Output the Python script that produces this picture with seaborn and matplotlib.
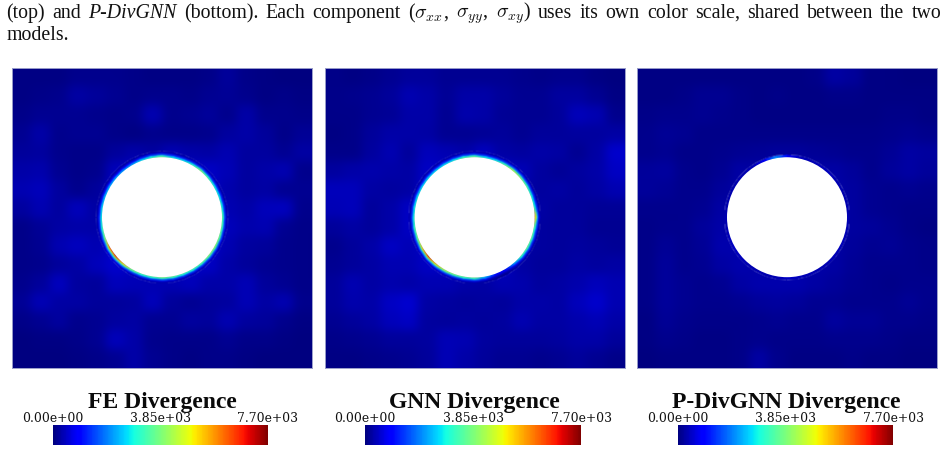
import numpy as np
import matplotlib
matplotlib.use("Agg")
import matplotlib.pyplot as plt
from matplotlib.patches import Circle
import seaborn as sns

# Divergence magnitude sampled on a coarse 16 x 16 grid (top row first)
fe_field = [
    [40, 40, 50, 95, 110, 95, 70, 50, 50, 60, 70, 185, 80, 50, 30, 30],
    [50, 70, 110, 245, 185, 125, 80, 95, 95, 80, 125, 165, 95, 60, 80, 50],
    [70, 150, 125, 150, 95, 70, 95, 340, 110, 125, 185, 95, 280, 95, 95, 80],
    [150, 280, 110, 140, 140, 70, 60, 110, 80, 80, 110, 215, 300, 185, 80, 165],
    [185, 230, 95, 70, 80, 185, 280, 230, 340, 300, 245, 360, 215, 230, 150, 260],
    [300, 320, 125, 70, 95, 400, 460, 460, 460, 460, 460, 380, 230, 280, 360, 95],
    [360, 420, 230, 110, 200, 500, 460, 460, 460, 460, 500, 320, 230, 260, 125, 150],
    [230, 340, 230, 420, 260, 500, 460, 460, 460, 460, 500, 340, 280, 400, 440, 110],
    [70, 165, 245, 300, 280, 520, 460, 460, 460, 460, 520, 400, 320, 360, 140, 70],
    [70, 125, 340, 440, 340, 540, 460, 460, 460, 460, 520, 340, 230, 185, 110, 70],
    [70, 110, 185, 245, 420, 520, 460, 460, 460, 460, 480, 280, 200, 140, 110, 70],
    [110, 200, 440, 230, 185, 400, 380, 360, 340, 400, 300, 280, 380, 185, 125, 70],
    [165, 380, 260, 260, 185, 200, 215, 420, 185, 150, 185, 215, 380, 245, 360, 110],
    [70, 150, 215, 110, 125, 230, 260, 150, 140, 215, 185, 340, 215, 185, 110, 50],
    [30, 40, 50, 70, 150, 400, 300, 110, 70, 70, 80, 125, 80, 70, 50, 30],
    [25, 25, 30, 40, 80, 150, 280, 125, 70, 60, 70, 80, 50, 30, 25, 25],
]
gnn_field = [
    [70, 60, 80, 125, 200, 185, 150, 125, 125, 125, 110, 80, 95, 95, 60, 30],
    [80, 95, 125, 185, 340, 300, 165, 280, 300, 185, 125, 125, 215, 230, 140, 50],
    [70, 80, 125, 165, 300, 280, 150, 320, 280, 165, 125, 125, 200, 400, 340, 95],
    [60, 70, 185, 300, 300, 245, 150, 150, 165, 185, 150, 185, 185, 230, 230, 260],
    [70, 70, 230, 360, 200, 400, 340, 300, 440, 260, 230, 300, 245, 125, 260, 520],
    [230, 280, 320, 280, 245, 480, 460, 460, 460, 480, 380, 215, 165, 215, 280, 480],
    [420, 420, 260, 215, 260, 500, 460, 460, 460, 480, 300, 215, 245, 200, 260, 340],
    [380, 400, 185, 300, 460, 460, 460, 460, 460, 460, 340, 245, 200, 185, 165, 165],
    [185, 260, 185, 300, 460, 460, 460, 460, 460, 460, 320, 215, 185, 185, 150, 125],
    [95, 185, 300, 460, 380, 480, 460, 460, 460, 480, 280, 230, 200, 215, 200, 165],
    [125, 200, 260, 340, 340, 480, 460, 460, 460, 460, 260, 185, 185, 245, 230, 260],
    [185, 340, 245, 320, 280, 340, 360, 300, 260, 340, 320, 230, 260, 320, 420, 340],
    [185, 320, 300, 460, 560, 260, 215, 185, 215, 200, 300, 280, 260, 400, 540, 360],
    [125, 200, 260, 420, 460, 230, 200, 215, 185, 230, 360, 260, 245, 320, 380, 300],
    [70, 110, 140, 185, 200, 215, 380, 360, 215, 185, 200, 185, 230, 280, 280, 185],
    [40, 50, 70, 95, 125, 200, 380, 280, 185, 150, 125, 110, 140, 185, 140, 70],
]
pdiv_field = [
    [35, 35, 45, 55, 55, 55, 45, 45, 45, 80, 270, 210, 55, 35, 30, 30],
    [45, 55, 80, 150, 130, 85, 55, 65, 55, 55, 85, 70, 55, 45, 45, 35],
    [70, 100, 110, 125, 110, 85, 55, 55, 55, 55, 55, 55, 55, 70, 85, 55],
    [110, 170, 130, 80, 80, 70, 70, 85, 85, 70, 70, 70, 85, 110, 130, 110],
    [110, 130, 85, 70, 100, 130, 160, 190, 190, 160, 130, 110, 110, 160, 250, 220],
    [210, 220, 100, 85, 130, 250, 270, 290, 290, 270, 270, 190, 120, 190, 250, 210],
    [200, 170, 110, 110, 190, 290, 300, 300, 300, 300, 300, 220, 130, 110, 130, 110],
    [100, 110, 110, 130, 270, 310, 300, 300, 300, 300, 340, 220, 130, 100, 85, 70],
    [70, 110, 120, 190, 290, 310, 300, 300, 300, 300, 310, 220, 190, 150, 85, 55],
    [85, 170, 120, 170, 320, 320, 300, 300, 300, 300, 270, 190, 130, 160, 100, 70],
    [85, 190, 120, 130, 270, 310, 300, 300, 300, 300, 250, 160, 120, 100, 100, 85],
    [85, 190, 130, 110, 150, 270, 310, 320, 310, 250, 190, 130, 110, 85, 110, 110],
    [70, 190, 130, 110, 110, 130, 190, 220, 190, 150, 130, 120, 110, 120, 170, 110],
    [55, 160, 110, 85, 70, 85, 110, 130, 110, 120, 220, 170, 160, 110, 100, 70],
    [45, 100, 70, 55, 55, 85, 120, 85, 85, 85, 100, 110, 100, 70, 55, 45],
    [30, 45, 45, 35, 45, 85, 270, 110, 45, 45, 55, 70, 55, 35, 30, 30],
]

# Values along the hole edge, one every 10 degrees counter-clockwise from +x
fe_edge = [3800, 3400, 3200, 3300, 3700, 4300, 3500, 3000, 3100, 4100,
           3500, 2900, 2400, 2400, 2500, 2600, 2700, 2900, 3100, 3600,
           4300, 6600, 7300, 5800, 4200, 3700, 3700, 4100, 3900, 3600,
           3700, 3900, 4300, 4400, 4200, 3900]
gnn_edge = [6200, 3400, 3400, 3800, 4300, 4800, 3900, 3200, 3200, 4100,
            3700, 3200, 3000, 2900, 3000, 3000, 3100, 3300, 3400, 3800,
            4200, 5600, 7200, 5800, 4700, 4200, 3800, 4000, 2600, 1200,
            1000, 2300, 3600, 4000, 3900, 3700]
pdiv_edge = [420, 400, 380, 400, 450, 500, 450, 420, 550, 1000,
             2400, 1000, 500, 400, 380, 380, 380, 380, 400, 420,
             480, 550, 480, 420, 400, 400, 420, 550, 500, 420,
             420, 420, 450, 480, 450, 420]
# Radial reach of the edge band, how its value decays and how it fades out
edge_reach_px = [6.0, 6.0, 2.5]
edge_decay = [[1.0, 0.8, 0.4, 0.15, 0.05],
              [1.0, 0.8, 0.4, 0.15, 0.05],
              [1.0, 0.95, 0.9, 0.85, 0.8]]
edge_opacity = [1.0, 1.0, 1.0, 0.8, 0.0]

titles = ["FE Divergence", "GNN Divergence", "P-DivGNN Divergence"]
fields = [fe_field, gnn_field, pdiv_field]
edges = [fe_edge, gnn_edge, pdiv_edge]
scale_ticks = [0.0, 3850.0, 7700.0]
scale_labels = ["0.00e+00", "3.85e+03", "7.70e+03"]

W, H = 948, 452
HOLE_RADIUS_PX = 60
# left, right, top, bottom of each field panel and left, right of each scale, in pixels
panel_boxes = [(12, 312, 68.7, 368.5), (324.6, 624.6, 68.5, 369), (637, 937, 68.7, 368.5)]
scale_boxes = [(53, 268), (365, 581), (677.7, 893.3)]
title_centres = [162, 474.5, 786.7]


def px_axes(fig, left, right, top, bottom):
    return fig.add_axes([left / W, 1 - bottom / H, (right - left) / W, (bottom - top) / H])


def soften(sigma):
    """Return an agg filter applying a separable Gaussian blur."""
    radius = int(3 * sigma + 0.5)
    kernel = np.exp(-0.5 * (np.arange(-radius, radius + 1) / sigma) ** 2)
    kernel /= kernel.sum()

    def apply(image, dpi):
        out = np.pad(image, ((radius, radius), (radius, radius), (0, 0)), mode="edge")
        out = np.apply_along_axis(np.convolve, 0, out, kernel, mode="same")
        out = np.apply_along_axis(np.convolve, 1, out, kernel, mode="same")
        return out[radius:-radius, radius:-radius], 0, 0

    return apply


sns.set_theme(style="white")
plt.rcParams["mathtext.fontset"] = "cm"
fig = plt.figure(figsize=(W / 100, H / 100), dpi=100, facecolor="white")

for i, box in enumerate(panel_boxes):
    ax = px_axes(fig, *box)
    grid = np.array(fields[i], dtype=float)
    cax = px_axes(fig, scale_boxes[i][0], scale_boxes[i][1], 425.6, 446)
    sns.heatmap(
        grid, ax=ax, cmap="jet", vmin=scale_ticks[0], vmax=scale_ticks[-1],
        xticklabels=False, yticklabels=False, linewidths=0,
        cbar_ax=cax,
        cbar_kws={"orientation": "horizontal", "ticks": scale_ticks},
    )
    mesh = ax.collections[0]
    mesh.set_agg_filter(soften(5.0))

    # Steep band of large values hugging the hole, fading into the field
    n = grid.shape[0]
    px_per_cell = (box[1] - box[0]) / n
    cx, cy = n / 2, n / 2 - 0.02
    radius = HOLE_RADIUS_PX / px_per_cell
    reach = edge_reach_px[i] / px_per_cell
    theta = np.deg2rad(np.arange(0, 370, 10))
    edge = np.array(edges[i] + edges[i][:1], dtype=float)
    decay = np.array(edge_decay[i])
    rr = radius + reach * np.linspace(0, 1, decay.size)
    X = cx + np.outer(rr, np.cos(theta))
    Y = cy - np.outer(rr, np.sin(theta))
    C = np.outer(decay, edge)
    band = ax.pcolormesh(X, Y, C, shading="gouraud", cmap="jet",
                         vmin=scale_ticks[0], vmax=scale_ticks[-1], zorder=3)
    band.set_alpha(np.outer(edge_opacity, np.ones_like(edge)))
    band.set_agg_filter(soften(0.6))
    ax.add_patch(Circle((cx, cy), radius, facecolor="white", edgecolor="none", zorder=4))

    for spine in ax.spines.values():
        spine.set_visible(True)
        spine.set_color("#9a9ecb")
        spine.set_linewidth(0.7)
        spine.set_zorder(5)

    # Horizontal scale with its end and middle values above it
    cbar = mesh.colorbar
    cbar.outline.set_visible(False)
    cax.xaxis.set_ticks_position("top")
    cax.set_xticks(scale_ticks)
    cax.set_xticklabels(scale_labels, family="DejaVu Serif", fontsize=8.9, color="#111111")
    cax.tick_params(axis="x", length=0, pad=0.6)

    fig.text(title_centres[i] / W, 1 - 408 / H, titles[i], ha="center", va="baseline",
             family="Liberation Serif", weight="bold", fontsize=17.0, color="#0a0a0a")

# Caption above the panels, justified to the full text width
caption_parts = [
    ("(top)", "normal"), ("and", "normal"), ("P-DivGNN", "italic"), ("(bottom).", "normal"),
    ("Each", "normal"), ("component", "normal"), (r"($\sigma_{xx}$,", "normal"),
    (r"$\sigma_{yy}$,", "normal"), (r"$\sigma_{xy}$)", "normal"), ("uses", "normal"),
    ("its", "normal"), ("own", "normal"), ("color", "normal"), ("scale,", "normal"),
    ("shared", "normal"), ("between", "normal"), ("the", "normal"), ("two", "normal"),
]
CAPTION_SIZE = 14.3
fig.canvas.draw()
renderer = fig.canvas.get_renderer()
words = [
    fig.text(0, 1 - 18 / H, s, family="Liberation Serif", style=st, fontsize=CAPTION_SIZE,
             va="baseline", color="#111111")
    for s, st in caption_parts
]
widths = [w.get_window_extent(renderer).width for w in words]
x0, x1 = 6.5, 941.5
gap = (x1 - x0 - sum(widths)) / (len(words) - 1)
x = x0
for w, wd in zip(words, widths):
    w.set_x(x / W)
    x += wd + gap
fig.text(x0 / W, 1 - 39.5 / H, "models.", family="Liberation Serif", fontsize=CAPTION_SIZE,
         va="baseline", color="#111111")

fig.savefig("out.png", dpi=100, facecolor="white")
